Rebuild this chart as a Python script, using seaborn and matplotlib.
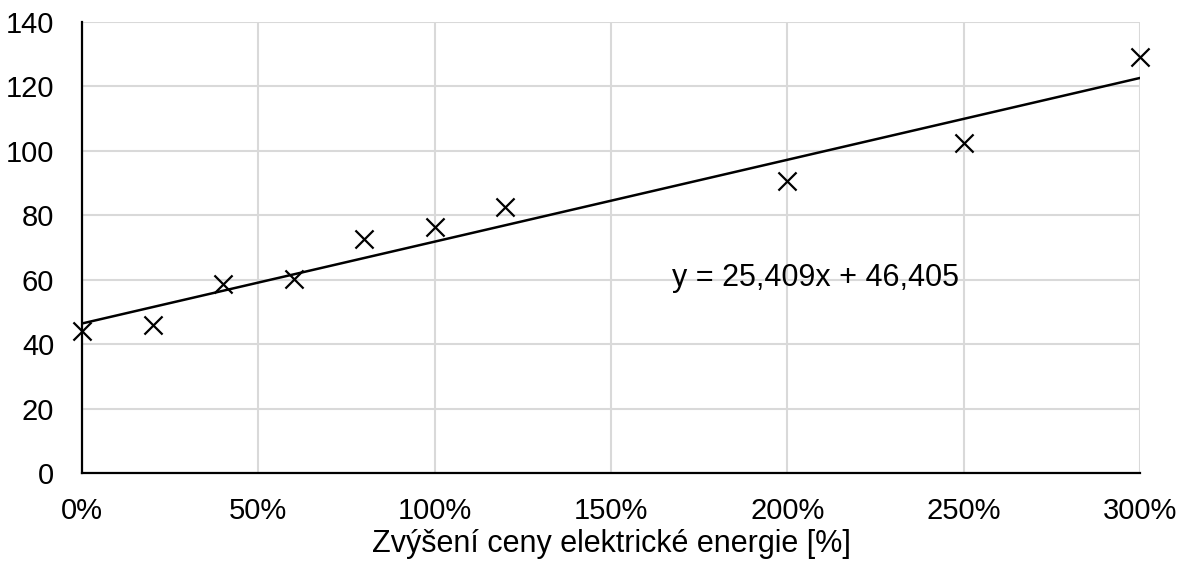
import matplotlib
matplotlib.use("Agg")
import matplotlib.pyplot as plt
from matplotlib.ticker import FuncFormatter
import numpy as np
import pandas as pd
import seaborn as sns

# Price increase (as fraction) and measured values
price_increase = [0.0, 0.2, 0.4, 0.6, 0.8, 1.0, 1.2, 2.0, 2.5, 3.0]
values = [44.1, 46.0, 58.7, 60.2, 72.7, 76.4, 82.6, 90.5, 102.4, 129.0]

# Linear trend y = slope * x + intercept
slope = 25.409
intercept = 46.405
trend_label = "y = 25,409x + 46,405"

x_label = "Zvýšení ceny elektrické energie [%]"
x_ticks = [0.0, 0.5, 1.0, 1.5, 2.0, 2.5, 3.0]
y_ticks = [0, 20, 40, 60, 80, 100, 120, 140]

sns.set_theme(style="white")
plt.rcParams["font.family"] = ["Liberation Sans", "DejaVu Sans"]

fig = plt.figure(figsize=(11.83, 5.61), dpi=100)
ax = fig.add_axes([0.0693, 0.1569, 0.8944, 0.8039])

df = pd.DataFrame({"x": price_increase, "y": values})
trend_x = np.array([0.0, 3.0])
trend = pd.DataFrame({"x": trend_x, "y": slope * trend_x + intercept})

sns.lineplot(data=trend, x="x", y="y", ax=ax, color="black", linewidth=1.8, zorder=3)
sns.scatterplot(data=df, x="x", y="y", ax=ax, marker="x", s=170, color="black",
                linewidth=1.6, zorder=4, clip_on=False)

ax.set_xlim(0, 3)
ax.set_ylim(0, 140)
ax.set_xticks(x_ticks)
ax.set_yticks(y_ticks)
ax.xaxis.set_major_formatter(FuncFormatter(lambda v, _: f"{v * 100:.0f}%"))
ax.grid(True, color="#d9d9d9", linewidth=1.5)
ax.set_axisbelow(True)

for side in ("top", "right"):
    ax.spines[side].set_visible(False)
for side in ("left", "bottom"):
    ax.spines[side].set_color("black")
    ax.spines[side].set_linewidth(1.6)

ax.tick_params(axis="both", length=0, labelsize=21, colors="black")
ax.tick_params(axis="x", pad=17)
ax.tick_params(axis="y", pad=20)

ax.set_xlabel(x_label, fontsize=22, color="black", labelpad=3)
ax.set_ylabel("")

ax.text(2.08, 60.5, trend_label, fontsize=22, color="black", ha="center", va="center")

fig.savefig("out.png", dpi=100, facecolor="white")
